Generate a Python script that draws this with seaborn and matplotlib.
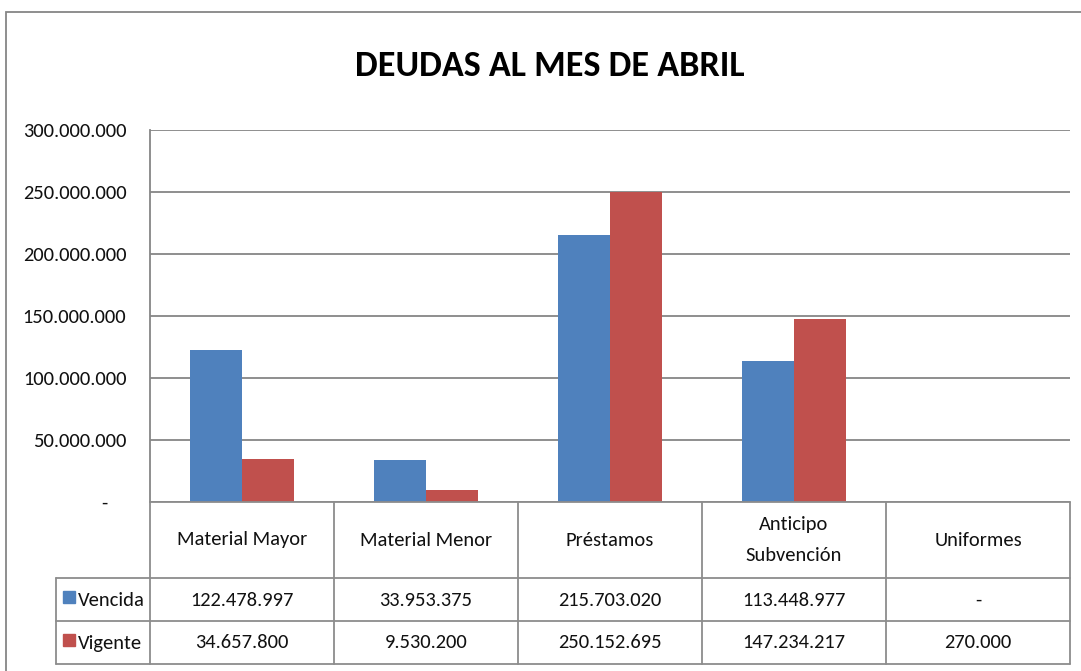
import numpy as np
import pandas as pd
import matplotlib
matplotlib.use("Agg")
import matplotlib.pyplot as plt
from matplotlib.patches import Rectangle
from matplotlib.lines import Line2D
import seaborn as sns

# data
categories = ["Material Mayor", "Material Menor", "Préstamos", "Anticipo\nSubvención", "Uniformes"]
vencida = [122478997, 33953375, 215703020, 113448977, 0]
vigente = [34657800, 9530200, 250152695, 147234217, 270000]
series = ["Vencida", "Vigente"]
colors = ["#4F81BD", "#C0504D"]
yticks = [0, 50000000, 100000000, 150000000, 200000000, 250000000, 300000000]


def fmt(v):
    return "-" if v == 0 else f"{v:,.0f}".replace(",", ".")


df = pd.DataFrame({
    "categoria": categories * 2,
    "serie": ["Vencida"] * len(categories) + ["Vigente"] * len(categories),
    "monto": vencida + vigente,
})

sns.set_theme(style="white")
plt.rcParams["font.family"] = ["Carlito", "IBM Plex Sans Condensed", "DejaVu Sans"]
FS = 14.8

W, H = 1081, 671
fig = plt.figure(figsize=(W / 100, H / 100), dpi=100)


def fx(px):
    return px / W


def fy(py):
    return 1 - py / H


# plot area in pixels
left, right, top, bottom = 150, 1070, 130, 502
ax = fig.add_axes([fx(left), fy(bottom), fx(right) - fx(left), fy(top) - fy(bottom)])

sns.barplot(data=df, x="categoria", y="monto", hue="serie", hue_order=series,
            palette=colors, width=0.57, saturation=1, ax=ax, legend=False,
            edgecolor="none", linewidth=0)

ax.set_ylim(0, 300000000)
ax.set_xlim(-0.5, len(categories) - 0.5)
ax.set_yticks(yticks)
# accounting style: the dash for zero sits a bit left of the digits
ax.set_yticklabels([fmt(v) + ("    " if v == 0 else "") for v in yticks],
                   fontsize=FS, color="#111111")
ax.tick_params(axis="y", length=0, pad=17)
ax.set_xticks([])
ax.set_xlabel("")
ax.set_ylabel("")
ax.yaxis.grid(True, color="#868686", linewidth=1.3)
ax.set_axisbelow(True)
for s in ["top", "right", "bottom"]:
    ax.spines[s].set_visible(False)
ax.spines["left"].set_color("#868686")
ax.spines["left"].set_linewidth(1.3)

fig.text(fx(550), fy(66), "DEUDAS AL MES DE ABRIL", ha="center", va="center",
         fontsize=26, fontweight="bold", color="black")

# outer chart border
fig.patches.append(Rectangle((fx(6), fy(700)), fx(1100), fy(12) - fy(700),
                             transform=fig.transFigure, fill=False,
                             edgecolor="#868686", linewidth=1.3))

# data table under the plot
line_kw = dict(color="#8c8c8c", linewidth=1.3, transform=fig.transFigure)
col_w = (right - left) / len(categories)
row_y = [502, 578, 621, 664]
fig.add_artist(Line2D([fx(left), fx(right)], [fy(502), fy(502)], **line_kw))
for y in row_y[1:]:
    fig.add_artist(Line2D([fx(56), fx(right)], [fy(y), fy(y)], **line_kw))
for i in range(len(categories) + 1):
    x = left + i * col_w
    fig.add_artist(Line2D([fx(x), fx(x)], [fy(502), fy(664)], **line_kw))
fig.add_artist(Line2D([fx(56), fx(56)], [fy(578), fy(664)], **line_kw))

for i, cat in enumerate(categories):
    cx = left + (i + 0.5) * col_w
    fig.text(fx(cx), fy(540), cat, ha="center", va="center", fontsize=FS,
             linespacing=1.95, color="#111111")
    fig.text(fx(cx), fy(600), fmt(vencida[i]), ha="center", va="center", fontsize=FS,
             color="#111111")
    fig.text(fx(cx), fy(643), fmt(vigente[i]), ha="center", va="center", fontsize=FS,
             color="#111111")

for name, color, yc in zip(series, colors, [600, 643]):
    fig.patches.append(Rectangle((fx(63), fy(yc + 3)), fx(12), fy(yc - 9) - fy(yc + 3),
                                 transform=fig.transFigure, color=color))
    fig.text(fx(78), fy(yc), name, ha="left", va="center", fontsize=FS, color="#111111")

fig.savefig("out.png", dpi=100, facecolor="white")
